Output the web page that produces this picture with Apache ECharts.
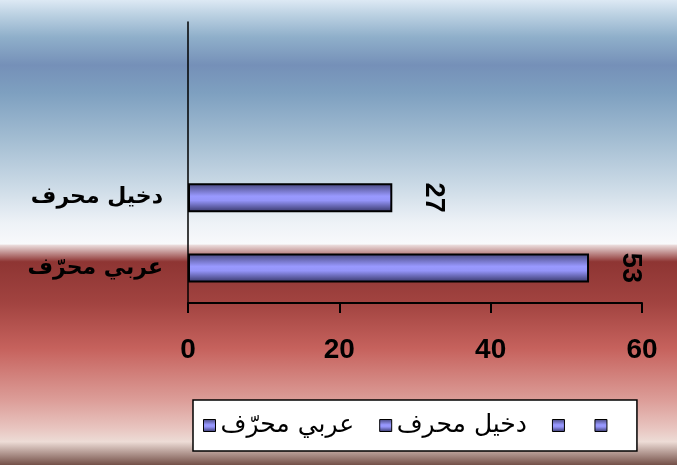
<!DOCTYPE html>
<html>
<head>
<meta charset="utf-8">
<script src="https://cdn.jsdelivr.net/npm/echarts@6/dist/echarts.min.js"></script>
<style>
html, body { margin: 0; padding: 0; }
#chart { width: 677px; height: 465px; }
</style>
</head>
<body>
<div id="chart"></div>
<script>
// categories bottom to top, the top two are empty slots
var categories = ['عربي محرّف', 'دخيل محرف', '\u200b', '\u200b\u200b']
var values = [53, 27, '-', '-']
var xTicks = [0, 20, 40, 60]

var barColor = new echarts.graphic.LinearGradient(0, 0, 0, 1, [
	{ offset: 0, color: '#45457a' },
	{ offset: 0.45, color: '#9999ff' },
	{ offset: 0.6, color: '#9494f8' },
	{ offset: 1, color: '#353566' }
])

var bgColor = new echarts.graphic.LinearGradient(0, 0, 0, 1, [
	{ offset: 0, color: '#dde9f4' },
	{ offset: 0.03, color: '#bdd2e3' },
	{ offset: 0.08, color: '#8fafca' },
	{ offset: 0.14, color: '#7590b8' },
	{ offset: 0.2, color: '#7ea0c0' },
	{ offset: 0.3, color: '#a3bdd2' },
	{ offset: 0.4, color: '#cbdae6' },
	{ offset: 0.48, color: '#eef2f7' },
	{ offset: 0.525, color: '#f8f9fb' },
	{ offset: 0.527, color: '#ebdcdc' },
	{ offset: 0.563, color: '#8e3533' },
	{ offset: 0.65, color: '#a14340' },
	{ offset: 0.75, color: '#c6625d' },
	{ offset: 0.86, color: '#dc9d98' },
	{ offset: 0.92, color: '#e8c4bf' },
	{ offset: 0.95, color: '#eddcd6' },
	{ offset: 1, color: '#745048' }
])

var seriesList = []
categories.forEach(function(name, i) {
	seriesList.push({
		name: name,
		type: 'bar',
		stack: 'all',
		barWidth: 29,
		data: values.map(function(v, j) { return j === i ? v : '-' }),
		itemStyle: {
			color: barColor,
			borderColor: '#000',
			borderWidth: 2
		},
		label: {
			show: true,
			position: 'right',
			distance: 41,
			rotate: -90,
			align: 'center',
			verticalAlign: 'middle',
			color: '#000',
			fontSize: 27,
			fontWeight: 'bold',
			fontFamily: 'Liberation Sans, Arial, sans-serif'
		}
	})
})

var myEchart = echarts.init(document.getElementById('chart'))
var option = {
	backgroundColor: bgColor,
	animation: false,
	grid: {
		left: 188,
		right: 35,
		top: 22,
		bottom: 162,
		containLabel: false
	},
	legend: {
		data: categories,
		left: 193,
		top: 400,
		padding: [13, 25, 13, 10],
		itemGap: 25,
		itemWidth: 12,
		itemHeight: 12,
		icon: 'rect',
		backgroundColor: '#fff',
		borderColor: '#000',
		borderWidth: 1.5,
		borderRadius: 0,
		itemStyle: {
			borderColor: '#000',
			borderWidth: 1
		},
		textStyle: {
			color: '#000',
			fontSize: 25,
			lineHeight: 24,
			fontFamily: 'DejaVu Sans, sans-serif'
		}
	},
	xAxis: {
		type: 'value',
		min: xTicks[0],
		max: xTicks[xTicks.length - 1],
		interval: 20,
		splitLine: { show: false },
		axisLine: { show: true, lineStyle: { color: '#000', width: 2 } },
		axisTick: { show: true, length: 10, lineStyle: { color: '#000', width: 2 } },
		axisLabel: {
			color: '#000',
			fontSize: 28,
			lineHeight: 28,
			fontWeight: 'bold',
			fontFamily: 'Liberation Sans, Arial, sans-serif',
			margin: 33
		}
	},
	yAxis: {
		type: 'category',
		data: categories,
		axisLine: { show: true, lineStyle: { color: '#000', width: 1.5 } },
		axisTick: { show: false },
		axisLabel: {
			color: '#000',
			fontSize: 22,
			fontWeight: 'bold',
			fontFamily: 'DejaVu Sans, sans-serif',
			margin: 25
		}
	},
	series: seriesList
}
myEchart.setOption(option)
</script>
</body>
</html>
